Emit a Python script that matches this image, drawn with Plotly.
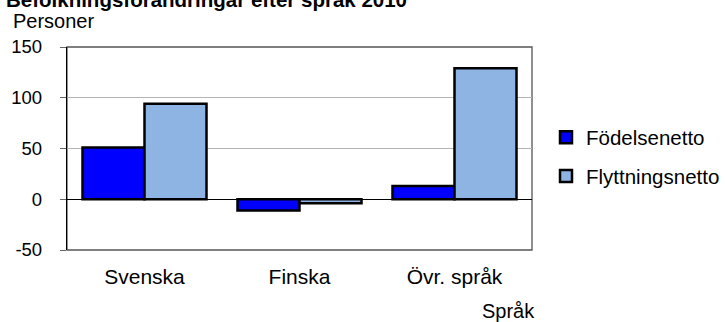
import plotly.graph_objects as go

# Population change by language, 2010
sprak = ["Svenska", "Finska", "Övr. språk"]
fodelsenetto = [51, -11, 13]
flyttningsnetto = [94, -4, 129]

y_ticks = [-50, 0, 50, 100, 150]

FONT = "Liberation Sans, Arial, sans-serif"

fig = go.Figure()
fig.add_trace(go.Bar(
    x=sprak, y=fodelsenetto, name="Födelsenetto", legendgroup="a",
    marker=dict(color="#0000FF", line=dict(color="black", width=2.5)),
))
fig.add_trace(go.Bar(
    x=sprak, y=flyttningsnetto, name="Flyttningsnetto", legendgroup="b",
    marker=dict(color="#8EB4E3", line=dict(color="black", width=2.5)),
))

L, R, T, B = 67, 193, 47, 72
W, H = 725, 322
pw, ph = W - L - R, H - T - B


def px_x(px):
    return (px - L) / pw


def px_y(py):
    return (H - B - py) / ph


fig.update_layout(
    width=W, height=H,
    margin=dict(l=L, r=R, t=T, b=B, pad=0, autoexpand=False),
    paper_bgcolor="white", plot_bgcolor="white",
    font=dict(family=FONT, color="black", size=18),
    barmode="group", bargap=0.2, bargroupgap=0,
    showlegend=True,
    legend=dict(
        x=px_x(546), xanchor="left", y=px_y(157), yanchor="middle",
        font=dict(size=20.5), traceorder="grouped", tracegroupgap=9,
        bgcolor="rgba(0,0,0,0)",
    ),
    xaxis=dict(
        showgrid=False, showline=False, ticks="", automargin=False,
        tickfont=dict(size=21), ticklabelstandoff=12,
    ),
    yaxis=dict(
        range=[-50, 150], tickvals=y_ticks, ticktext=[str(v) for v in y_ticks],
        showgrid=True, gridcolor="#b4b4b4", gridwidth=1, automargin=False,
        zeroline=True, zerolinecolor="black", zerolinewidth=1.3,
        showline=True, linecolor="black", linewidth=1.3,
        ticks="outside", ticklen=6, tickcolor="#666",
        tickfont=dict(size=18.5), ticklabelstandoff=14,
    ),
    shapes=[dict(
        type="rect", xref="paper", yref="paper", x0=0, x1=1, y0=0, y1=1,
        line=dict(color="#555", width=1.3), layer="below",
    )],
    annotations=[
        dict(text="<b>Befolkningsförändringar efter språk 2010</b>",
             xref="paper", yref="paper", x=px_x(4), y=px_y(0),
             xanchor="left", yanchor="middle", showarrow=False,
             font=dict(size=20.5)),
        dict(text="Personer", xref="paper", yref="paper",
             x=px_x(11), y=px_y(21), xanchor="left", yanchor="middle",
             showarrow=False, font=dict(size=20)),
        dict(text="Språk", xref="paper", yref="paper",
             x=px_x(508), y=px_y(311), xanchor="center", yanchor="middle",
             showarrow=False, font=dict(size=20)),
    ],
)

fig.write_html("out.html")
